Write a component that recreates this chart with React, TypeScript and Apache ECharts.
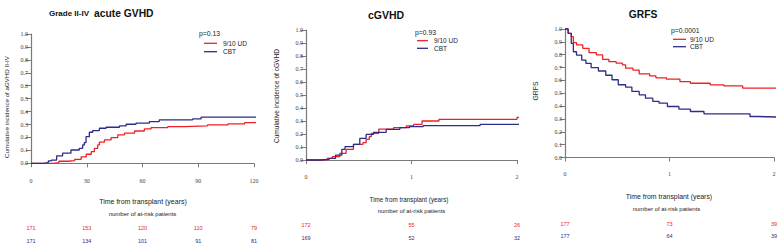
import React, { useEffect, useRef } from "react";
import * as echarts from "echarts";

// Panel 1: Grade II-IV acute GVHD (days)
const aGvhdUd: [number, number][] = [
  [0, 0], [12, 0.005], [15, 0.016], [20, 0.02], [23.5, 0.031], [27, 0.05], [29.7, 0.07], [32.4, 0.09],
  [34.1, 0.116], [35.9, 0.142], [36.8, 0.163], [39.5, 0.181], [43.1, 0.199], [46.7, 0.22], [50.3, 0.233],
  [55.7, 0.25], [61, 0.266], [64.6, 0.276], [73.6, 0.284], [82.5, 0.289], [95, 0.297], [106, 0.305],
  [115, 0.315], [127, 0.315],
];
const aGvhdCbt: [number, number][] = [
  [0, 0], [6.6, 0.005], [9.3, 0.018], [11, 0.025], [13.8, 0.057], [17, 0.078], [21.5, 0.103], [26, 0.116],
  [27.8, 0.142], [28.7, 0.16], [29.6, 0.206], [31.4, 0.24], [33.2, 0.253], [36.8, 0.271], [40.4, 0.279],
  [47.6, 0.289], [51.2, 0.302], [56.5, 0.31], [63.7, 0.323], [69, 0.336], [87, 0.343], [91.5, 0.357],
  [123, 0.364], [126, 0.364],
];
// Panel 2: cGVHD (years)
const cGvhdUd: [number, number][] = [
  [0, 0], [0.15, 0.005], [0.2, 0.013], [0.25, 0.026], [0.32, 0.051], [0.38, 0.082], [0.45, 0.12],
  [0.54, 0.133], [0.57, 0.159], [0.6, 0.18], [0.62, 0.205], [0.69, 0.238], [0.83, 0.249], [0.95, 0.262],
  [1.02, 0.274], [1.1, 0.3], [1.26, 0.313], [2.0, 0.328], [2.09, 0.328],
];
const cGvhdCbt: [number, number][] = [
  [0, 0], [0.13, 0.005], [0.22, 0.013], [0.28, 0.038], [0.34, 0.082], [0.37, 0.103], [0.45, 0.12],
  [0.51, 0.167], [0.57, 0.197], [0.64, 0.213], [0.76, 0.236], [0.89, 0.249], [0.98, 0.256], [1.11, 0.264],
  [1.65, 0.274], [2.09, 0.274],
];
// Panel 3: GRFS (years)
const grfsUd: [number, number][] = [
  [0, 1], [0.03, 0.966], [0.06, 0.94], [0.08, 0.894], [0.11, 0.876], [0.17, 0.85], [0.23, 0.816],
  [0.3, 0.798], [0.36, 0.764], [0.42, 0.746], [0.49, 0.734], [0.55, 0.721], [0.58, 0.695], [0.65, 0.68],
  [0.71, 0.651], [0.81, 0.635], [0.87, 0.62], [0.97, 0.61], [1.1, 0.59], [1.2, 0.578], [1.39, 0.565],
  [1.52, 0.557], [1.7, 0.54], [2.08, 0.54],
];
const grfsCbt: [number, number][] = [
  [0, 1], [0.03, 0.966], [0.06, 0.888], [0.08, 0.823], [0.11, 0.797], [0.16, 0.758], [0.2, 0.733],
  [0.25, 0.7], [0.32, 0.673], [0.39, 0.64], [0.45, 0.605], [0.51, 0.566], [0.58, 0.548], [0.64, 0.514],
  [0.71, 0.488], [0.77, 0.462], [0.84, 0.436], [0.9, 0.423], [0.98, 0.397], [1.09, 0.376], [1.2, 0.358],
  [1.33, 0.34], [1.77, 0.319], [1.84, 0.314], [2.08, 0.314],
];

// At-risk tables
const riskAUd = ["171", "153", "120", "110", "79"];
const riskACbt = ["171", "134", "101", "91", "81"];
const riskCUd = ["172", "55", "26"];
const riskCCbt = ["169", "52", "32"];
const riskGUd = ["177", "73", "39"];
const riskGCbt = ["177", "64", "39"];

const titles = ["cGVHD", "GRFS"];
const legendNames = ["9/10 UD", "CBT"];
const pValues = ["p=0.13", "p=0.93", "p=0.0001"];

const RED = "#ec2227";
const BLUE = "#2d2d88";
const AXIS = "#7a7a7a";
const SANS = "Liberation Sans, Arial, sans-serif";
const SERIF = "Liberation Serif, Times New Roman, serif";

export default function App() {
  const ref = useRef<HTMLDivElement>(null);
  useEffect(() => {
    if (!ref.current) return;
    const chart = echarts.init(ref.current, null, { renderer: "svg" });

    const grids = [
      { left: 31, top: 34, width: 223, height: 129.3 },
      { left: 306, top: 30, width: 211, height: 130 },
      { left: 565, top: 29, width: 209, height: 128.5 },
    ];
    const xCfg = [
      { max: 120, interval: 30, margin: 14.5, risk: [riskAUd, riskACbt], off: [62, 74.4] },
      { max: 2, interval: 1, margin: 13.5, risk: [riskCUd, riskCCbt], off: [62, 74.7] },
      { max: 2, interval: 1, margin: 13.5, risk: [riskGUd, riskGCbt], off: [63.3, 75] },
    ];

    const xAxis: any[] = [];
    const yAxis: any[] = [];
    xCfg.forEach((c, i) => {
      xAxis.push({
        gridIndex: i, type: "value", min: 0, max: c.max, interval: c.interval,
        axisLine: { show: true, lineStyle: { color: AXIS, width: 1.2 } },
        axisTick: { show: true, length: 4, lineStyle: { color: AXIS, width: 1 } },
        axisLabel: { margin: c.margin, fontFamily: SERIF, fontSize: 6, color: "#444", showMinLabel: true, showMaxLabel: true },
        splitLine: { show: false },
      });
      [0, 1].forEach((k) => {
        const arr = c.risk[k];
        xAxis.push({
          gridIndex: i, type: "value", min: 0, max: c.max, interval: c.interval, position: "bottom", offset: c.off[k],
          axisLine: { show: false }, axisTick: { show: false }, splitLine: { show: false },
          axisLabel: {
            margin: 0, fontFamily: SANS, fontSize: 5.5, color: k === 0 ? RED : BLUE,
            showMinLabel: true, showMaxLabel: true,
            formatter: (v: number) => arr[Math.round(v / c.interval)] ?? "",
          },
        });
      });
      yAxis.push({
        gridIndex: i, type: "value", min: 0, max: 1, interval: 0.1,
        axisLine: { show: true, lineStyle: { color: AXIS, width: 1.2 } },
        axisTick: { show: true, length: 5.5, lineStyle: { color: AXIS, width: 1 } },
        axisLabel: { margin: 3, fontFamily: SERIF, fontSize: 6, color: "#444", formatter: (v: number) => v.toFixed(1) },
        splitLine: { show: false },
      });
    });

    const datasets = [
      [aGvhdUd, aGvhdCbt],
      [cGvhdUd, cGvhdCbt],
      [grfsUd, grfsCbt],
    ];
    const series: any[] = [];
    datasets.forEach((pair, i) => {
      pair.forEach((d, k) => {
        series.push({
          type: "line", name: legendNames[k], xAxisIndex: i * 3, yAxisIndex: i, data: d,
          step: "end", showSymbol: false, symbol: "none", clip: false,
          lineStyle: { color: k === 0 ? RED : BLUE, width: 1.3 },
        });
      });
    });

    const txt = (text: string, x: number, y: number, size: number, opts: any = {}) => ({
      type: "text", x, y, rotation: opts.rotation || 0, silent: true,
      style: {
        text, fontSize: size, fontFamily: SANS, fontWeight: opts.bold ? "bold" : "normal",
        fill: opts.color || "#111", align: opts.align || "left", verticalAlign: "middle",
      },
    });
    const ln = (x1: number, x2: number, y: number, color: string) => ({
      type: "line", silent: true, shape: { x1, y1: y, x2, y2: y }, style: { stroke: color, lineWidth: 1.3 },
    });

    const legendPos = [
      { px: 199, py: 33, lx1: 204, lx2: 217, y1: 43.3, y2: 51.7, tx: 223 },
      { px: 415, py: 32.3, lx1: 417, lx2: 428, y1: 40.7, y2: 48.3, tx: 434 },
      { px: 671, py: 30.7, lx1: 673, lx2: 686, y1: 39.3, y2: 46.7, tx: 690 },
    ];
    const graphic: any[] = [
      txt("Grade II-IV", 49, 13.5, 8, { bold: true }),
      txt("acute GVHD", 94, 13, 10.3, { bold: true }),
      txt(titles[0], 386, 14.5, 10.5, { bold: true, align: "center" }),
      txt(titles[1], 643, 14, 10.3, { bold: true, align: "center" }),
      txt("Cumulative incidence of aGVHD II-IV", 6.5, 107, 6.2, { align: "center", rotation: Math.PI / 2, color: "#222" }),
      txt("Cumulative incidence of cGVHD", 276.5, 96, 6.6, { align: "center", rotation: Math.PI / 2, color: "#222" }),
      txt("GRFS", 535.5, 91, 6.8, { align: "center", rotation: Math.PI / 2, color: "#222" }),
      txt("Time from transplant (years)", 143, 201, 7, { align: "center", color: "#222" }),
      txt("number of at-risk patients", 142.5, 214.3, 6, { align: "center", color: "#222" }),
      txt("Time from transplant (years)", 409, 199.3, 6.3, { align: "center", color: "#222" }),
      txt("number of at-risk patients", 411.5, 210.7, 6, { align: "center", color: "#222" }),
      txt("Time from transplant (years)", 669, 196, 6.9, { align: "center", color: "#222" }),
      txt("number of at-risk patients", 666.5, 209.3, 6, { align: "center", color: "#222" }),
    ];
    legendPos.forEach((p, i) => {
      graphic.push(txt(pValues[i], p.px, p.py, 6.8, { color: "#222" }));
      graphic.push(ln(p.lx1, p.lx2, p.y1, RED));
      graphic.push(ln(p.lx1, p.lx2, p.y2, BLUE));
      graphic.push(txt(legendNames[0], p.tx, p.y1, 6.5, { color: "#222" }));
      graphic.push(txt(legendNames[1], p.tx, p.y2, 6.5, { color: "#222" }));
    });

    chart.setOption({
      animation: false,
      backgroundColor: "#ffffff",
      grid: grids,
      xAxis,
      yAxis,
      series,
      graphic,
    });
    return () => chart.dispose();
  }, []);

  return (
    <div
      ref={ref}
      style={{ position: "fixed", left: 0, top: 0, width: 784, height: 244, background: "#fff" }}
    />
  );
}
